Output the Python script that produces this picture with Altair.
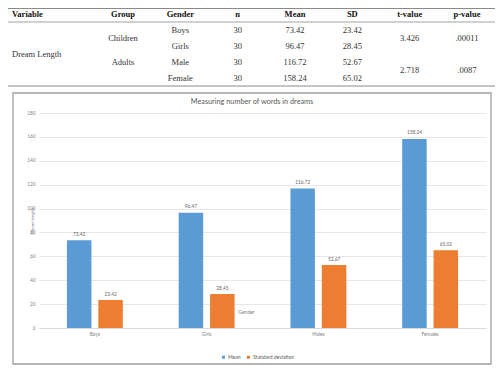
import altair as alt
import pandas as pd

# ---------------- data ----------------
categories = ["Boys", "Girls", "Males", "Females"]
series = ["Mean", "Standard deviation"]
mean_vals = [73.42, 96.47, 116.72, 158.24]
sd_vals = [23.42, 28.45, 52.67, 65.02]
y_ticks = [0, 20, 40, 60, 80, 100, 120, 140, 160, 180]

table_cols = ["Group", "Gender", "n", "Mean", "SD", "t-value", "p-value"]
variable_name = "Dream Length"
groups = ["Children", "Adults"]
genders = ["Boys", "Girls", "Male", "Female"]
ns = ["30", "30", "30", "30"]
table_means = ["73.42", "96.47", "116.72", "158.24"]
table_sds = ["23.42", "28.45", "52.67", "65.02"]
t_values = ["3.426", "2.718"]
p_values = [".00011", ".0087"]
# table row structure (header = 0, gender rows 1..4)
gender_rows = [1, 2, 3, 4]
group_rows = [1.5, 3]
test_rows = [1.5, 3.5]
variable_row = 2.5

# ---------------- bar chart ----------------
bars_df = pd.DataFrame(
    [{"category": c, "series": series[0], "value": v} for c, v in zip(categories, mean_vals)]
    + [{"category": c, "series": series[1], "value": v} for c, v in zip(categories, sd_vals)]
)
bars_df["label"] = bars_df["value"].map(lambda v: f"{v:.2f}")

FONT = "Lato"
SERIF = "Liberation Serif"

x_enc = alt.X(
    "category:N",
    sort=categories,
    scale=alt.Scale(paddingInner=0.5, paddingOuter=0.25),
    axis=alt.Axis(
        title="Gender", titleX=207, titleY=-17, titleAngle=0, titleAlign="center",
        titleBaseline="middle", titleFont=FONT, titleFontSize=5, titleFontWeight="normal",
        titleColor="#7f7f7f", labelAngle=0, labelFont=FONT, labelFontSize=4.8,
        labelColor="#7f7f7f", labelPadding=3.5, ticks=False, domainColor="#d9d9d9",
        labelBaseline="top", grid=False,
    ),
)
xoff_enc = alt.XOffset("series:N", sort=series, scale=alt.Scale(paddingInner=0.22))
y_enc = alt.Y(
    "value:Q",
    scale=alt.Scale(domain=[0, 180], nice=False),
    axis=alt.Axis(
        values=y_ticks, title="Dream length", titleX=-7, titleY=108, titleAngle=-90,
        titleAlign="center", titleBaseline="middle", titleFont=FONT, titleFontSize=4.5,
        titleFontWeight="normal", titleColor="#7f7f7f", labelFont=FONT, labelFontSize=4.8,
        labelColor="#7f7f7f", labelPadding=4, ticks=False, domain=False,
        grid=True, gridColor="#e0e0e0", gridWidth=0.8,
    ),
)

bars = alt.Chart(bars_df).mark_bar().encode(
    x=x_enc,
    xOffset=xoff_enc,
    y=y_enc,
    color=alt.Color(
        "series:N",
        sort=series,
        scale=alt.Scale(domain=series, range=["#5b9bd5", "#ed7d31"]),
        legend=alt.Legend(
            title=None, orient="none", legendX=182, legendY=241.5, direction="horizontal",
            symbolType="square", symbolSize=9, symbolStrokeWidth=0, labelFont=FONT,
            labelFontSize=5, labelColor="#595959", labelOffset=2, columnPadding=5,
        ),
    ),
)

labels = alt.Chart(bars_df).mark_text(
    dy=-5.5, font=FONT, fontSize=4.8, color="#666666", baseline="middle"
).encode(
    x=x_enc,
    xOffset=xoff_enc,
    y=y_enc,
    text="label:N",
)

bar_block = alt.layer(bars, labels)

# ---------------- table ----------------
table_x = alt.X("col:N", sort=table_cols,
                scale=alt.Scale(type="point", domain=table_cols, range=[84, 428], padding=0),
                axis=None)
table_y = alt.Y("row:Q", scale=alt.Scale(domain=[0, 4], range=[-99, -35], nice=False, zero=False),
                axis=None)

header_df = pd.DataFrame({"col": table_cols, "row": [0] * len(table_cols), "text": table_cols})
header = alt.Chart(header_df).mark_text(
    font=SERIF, fontSize=8.5, fontWeight="bold", color="#111111", baseline="middle"
).encode(x=table_x, y=table_y, text="text:N")

header_var = alt.Chart(pd.DataFrame({"row": [0], "text": ["Variable"]})).mark_text(
    font=SERIF, fontSize=8.5, fontWeight="bold", color="#111111", baseline="middle", align="left"
).encode(x=alt.value(-27), y=table_y, text="text:N")

cells = []
for i, r in enumerate(gender_rows):
    cells.append({"col": "Gender", "row": r, "text": genders[i]})
    cells.append({"col": "n", "row": r, "text": ns[i]})
    cells.append({"col": "Mean", "row": r, "text": table_means[i]})
    cells.append({"col": "SD", "row": r, "text": table_sds[i]})
for i, r in enumerate(group_rows):
    cells.append({"col": "Group", "row": r, "text": groups[i]})
for i, r in enumerate(test_rows):
    cells.append({"col": "t-value", "row": r, "text": t_values[i]})
    cells.append({"col": "p-value", "row": r, "text": p_values[i]})
body = alt.Chart(pd.DataFrame(cells)).mark_text(
    font=SERIF, fontSize=8.5, color="#333333", baseline="middle"
).encode(x=table_x, y=table_y, text="text:N")

body_var = alt.Chart(pd.DataFrame({"row": [variable_row], "text": [variable_name]})).mark_text(
    font=SERIF, fontSize=8.5, color="#333333", baseline="middle", align="left"
).encode(x=alt.value(-27), y=table_y, text="text:N")

one = pd.DataFrame({"k": [0]})
rule_top = alt.Chart(one).mark_rule(color="#8a8a8a", strokeWidth=1).encode(
    x=alt.value(-31), x2=alt.value(458), y=alt.value(-104.5))
rule_head = alt.Chart(one).mark_rule(color="#8a8a8a", strokeWidth=0.8).encode(
    x=alt.value(-31), x2=alt.value(458), y=alt.value(-91))
rule_bottom = alt.Chart(one).mark_rule(color="#8a8a8a", strokeWidth=1).encode(
    x=alt.value(-31), x2=alt.value(458), y=alt.value(-27))

frame = alt.Chart(one).mark_rect(fillOpacity=0, stroke="#a0a0a0", strokeWidth=1.3).encode(
    x=alt.value(-26), x2=alt.value(452), y=alt.value(-20), y2=alt.value(251))

title = alt.Chart(one).mark_text(
    font=FONT, fontSize=7.3, color="#595959", baseline="middle", align="center"
).encode(x=alt.value(213), y=alt.value(-11), text=alt.value("Measuring number of words in dreams"))

chart = alt.layer(
    bar_block, header, header_var, body, body_var, rule_top, rule_head, rule_bottom, frame, title
).resolve_scale(x="independent", y="independent").properties(
    width=447, height=215,
    padding={"left": 31, "top": 105, "right": 9, "bottom": 39},
    autosize="none",
    background="white",
).configure_view(stroke=None)

chart.save("out.html", embed_options={"renderer": "svg", "actions": False})
